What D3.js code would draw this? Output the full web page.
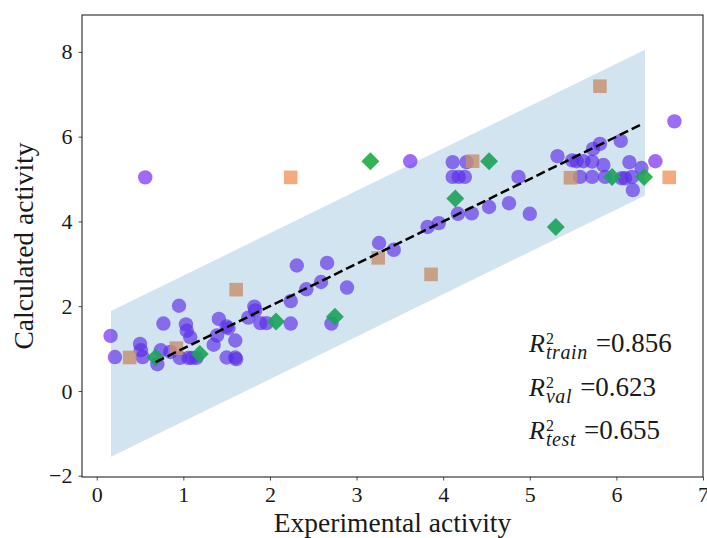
<!DOCTYPE html>
<html>
<head>
<meta charset="utf-8">
<script src="https://cdn.jsdelivr.net/npm/d3@7"></script>
<style>
  body { margin: 0; background: #fff; }
  text { font-family: "Liberation Serif", "DejaVu Serif", serif; fill: #1a1a1a; }
</style>
</head>
<body>
<div id="chart"></div>
<script>
// ---- data ----
const trainX = [0.16,0.21,0.50,0.51,0.53,0.56,0.70,0.74,0.77,0.85,0.95,0.96,1.03,1.04,1.08,1.06,1.10,1.15,
  1.35,1.39,1.41,1.50,1.52,1.50,1.60,1.60,1.61,1.75,1.82,1.83,1.89,1.96,2.24,2.24,2.31,2.42,2.59,2.66,2.71,2.89,
  3.26,3.43,3.62,3.82,3.95,4.11,4.27,4.11,4.18,4.25,4.17,4.33,4.53,4.76,4.87,5.00,5.32,5.49,5.54,5.62,5.72,5.73,
  5.81,5.85,6.05,6.15,6.29,5.58,5.72,5.87,6.06,6.10,6.18,6.19,6.45,6.67]
const trainY = [1.30,0.80,1.11,0.96,0.80,5.04,0.63,0.96,1.59,0.92,2.01,0.78,1.57,1.42,1.27,0.78,0.78,0.78,
  1.09,1.31,1.70,1.52,1.48,0.79,1.19,0.79,0.75,1.73,1.99,1.90,1.60,1.60,2.12,1.59,2.96,2.40,2.57,3.02,1.59,2.44,
  3.49,3.33,5.42,3.87,3.96,5.40,5.40,5.05,5.05,5.05,4.18,4.19,4.34,4.43,5.05,4.18,5.54,5.44,5.42,5.42,5.41,5.71,
  5.83,5.33,5.90,5.40,5.26,5.05,5.05,5.05,5.02,5.02,5.05,4.74,5.42,6.36]

const valX = [0.38,0.92,1.61,2.24,3.25,3.86,4.34,5.47,5.81,6.61]
const valY = [0.79,1.01,2.39,5.04,3.14,2.75,5.42,5.03,7.19,5.04]

const testX = [0.68,1.19,2.07,2.75,3.16,4.14,4.53,5.30,5.95,6.32]
const testY = [0.79,0.87,1.64,1.75,5.42,4.54,5.42,3.87,5.05,5.05]

const bandX = [0.165, 6.33]
const bandUpper = [1.885, 8.05]
const bandLower = [-1.555, 4.61]

const fitX = [0.68, 6.30]
const fitY = [0.68, 6.30]

const xTicks = [0,1,2,3,4,5,6,7]
const yTicks = [-2,0,2,4,6,8]

const scores = [
  {sub: "train", val: "0.856"},
  {sub: "val", val: "0.623"},
  {sub: "test", val: "0.655"}
]

// ---- layout ----
const width = 707
const height = 538
const mLeft = 82, mRight = 703, mTop = 15, mBottom = 477

const svg = d3.select("#chart").append("svg")
  .attr("width", width)
  .attr("height", height)

const x = d3.scaleLinear().domain([-0.17, 7]).range([mLeft, mRight])
const y = d3.scaleLinear().domain([-2.03, 8.87]).range([mBottom, mTop])

const zip = (xs, ys) => xs.map((v, i) => ({x: v, y: ys[i]}))

// points first, the band is laid over them with alpha
svg.append("g")
  .selectAll("circle")
  .data(zip(trainX, trainY))
  .join("circle")
    .attr("cx", d => x(d.x))
    .attr("cy", d => y(d.y))
    .attr("r", 7.2)
    .style("fill", "#6a1af5")
    .style("fill-opacity", 0.65)

svg.append("g")
  .selectAll("path")
  .data(zip(valX, valY))
  .join("path")
    .attr("d", d3.symbol(d3.symbolSquare, 185))
    .attr("transform", d => `translate(${x(d.x)},${y(d.y)})`)
    .style("fill", "#f0955c")
    .style("fill-opacity", 0.8)

svg.append("g")
  .selectAll("path")
  .data(zip(testX, testY))
  .join("path")
    .attr("d", d3.symbol(d3.symbolDiamond2, 205))
    .attr("transform", d => `translate(${x(d.x)},${y(d.y)})`)
    .style("fill", "#1eae45")
    .style("fill-opacity", 0.92)

// confidence band
const band = bandX.map((v, i) => ({x: v, lo: bandLower[i], hi: bandUpper[i]}))
svg.append("path")
  .datum(band)
  .attr("d", d3.area().x(d => x(d.x)).y0(d => y(d.lo)).y1(d => y(d.hi)))
  .style("fill", "#1f77b4")
  .style("fill-opacity", 0.2)

// y = x fit line
svg.append("path")
  .datum(zip(fitX, fitY))
  .attr("d", d3.line().x(d => x(d.x)).y(d => y(d.y)))
  .style("fill", "none")
  .style("stroke", "#000")
  .style("stroke-width", 2.5)
  .style("stroke-dasharray", "9.25,4")

// axes
const fmt = d => d < 0 ? "\u2212" + Math.abs(d) : String(d)

const xAxis = svg.append("g")
  .attr("transform", `translate(0,${mBottom})`)
  .call(d3.axisBottom(x).tickValues(xTicks).tickFormat(fmt).tickSize(3.5).tickPadding(6))
xAxis.select(".domain").remove()
xAxis.selectAll("text").style("font-size", "22px").style("font-family", "Liberation Serif").attr("fill", "#1a1a1a")
xAxis.selectAll("line").attr("stroke", "#222").attr("stroke-width", 0.8)

const yAxis = svg.append("g")
  .attr("transform", `translate(${mLeft},0)`)
  .call(d3.axisLeft(y).tickValues(yTicks).tickFormat(fmt).tickSize(3.5).tickPadding(6))
yAxis.select(".domain").remove()
yAxis.selectAll("text").style("font-size", "22px").style("font-family", "Liberation Serif").attr("fill", "#1a1a1a")
yAxis.selectAll("line").attr("stroke", "#222").attr("stroke-width", 0.8)

// frame
svg.append("rect")
  .attr("x", mLeft).attr("y", mTop)
  .attr("width", mRight - mLeft).attr("height", mBottom - mTop)
  .style("fill", "none")
  .style("stroke", "#111")
  .style("stroke-width", 1)

// axis labels
svg.append("text")
  .attr("x", (mLeft + mRight) / 2)
  .attr("y", 532)
  .attr("text-anchor", "middle")
  .style("font-size", "27.5px")
  .text("Experimental activity")

svg.append("text")
  .attr("transform", `translate(33,${(mTop + mBottom) / 2}) rotate(-90)`)
  .attr("text-anchor", "middle")
  .style("font-size", "27.5px")
  .text("Calculated activity")

// R^2 annotations, one text element per line
const baselines = [352, 396, 439]
scores.forEach((s, i) => {
  const b = baselines[i]
  const t = svg.append("text").attr("x", 529).attr("y", b)
  const r = t.append("tspan")
    .style("font-size", "26px")
    .style("font-style", "italic")
    .text("R")
  const rEnd = 529 + r.node().getComputedTextLength() + 1
  t.append("tspan")
    .attr("x", rEnd).attr("y", b - 8.5)
    .style("font-size", "16px")
    .text("2")
  const sub = t.append("tspan")
    .attr("x", rEnd).attr("y", b + 6.5)
    .style("font-size", "20px")
    .style("font-style", "italic")
    .style("letter-spacing", "0.6px")
    .text(s.sub)
  const subEnd = rEnd + sub.node().getComputedTextLength()
  t.append("tspan")
    .attr("x", subEnd + 8).attr("y", b)
    .style("font-size", "27px")
    .text("=" + s.val)
})
</script>
</body>
</html>
